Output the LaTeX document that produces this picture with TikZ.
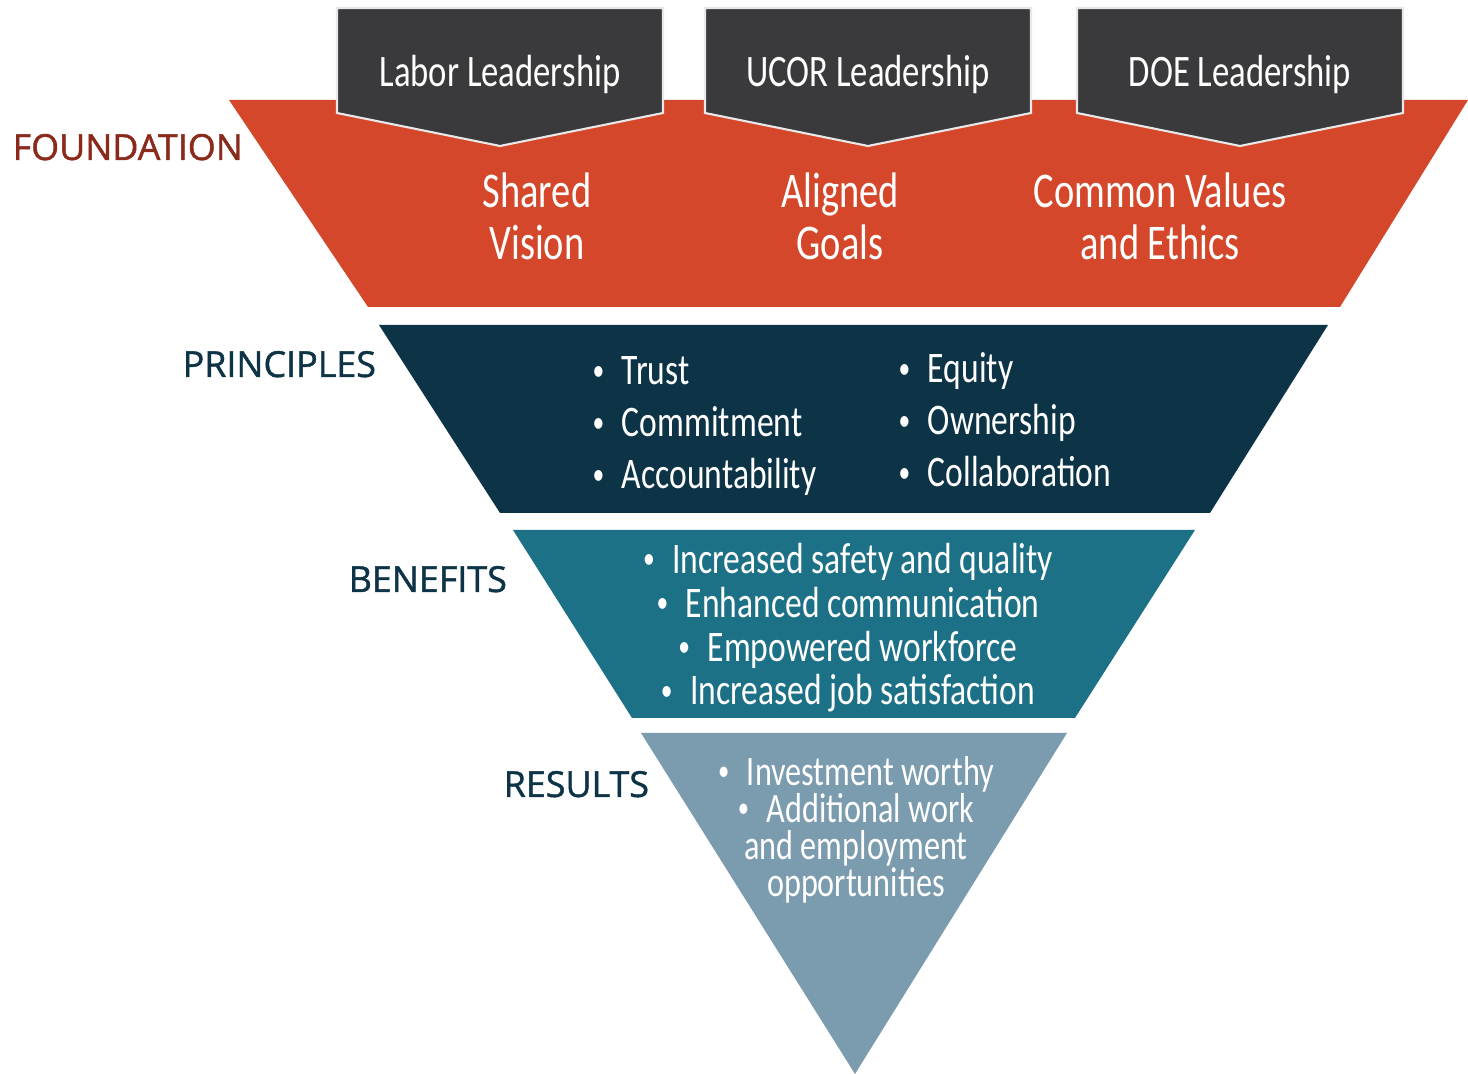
\documentclass[tikz,border=0pt]{standalone}
\usepackage{fontspec}
\setmainfont{Carlito}
\newfontfamily\condfont[FakeStretch=0.77]{Carlito}
\newfontfamily\labelfont[FakeBold=1.2]{Open Sans}
\usepackage{tikz}
\usetikzlibrary{positioning}

\definecolor{foundorange}{HTML}{D5472A}
\definecolor{headgray}{HTML}{3A3A3C}
\definecolor{princblue}{HTML}{0C3346}
\definecolor{benefteal}{HTML}{1D7186}
\definecolor{resultgray}{HTML}{7B9BAF}
\definecolor{foundlabel}{HTML}{8A2A1C}

\newcommand{\bul}{\raisebox{1.3pt}{\scalebox{0.7}{•}}\hspace{5pt}}

\tikzset{
  headbox/.style={fill=headgray, draw=white!82!gray, line width=0.6pt},
  headtext/.style={text=white, inner sep=0pt, anchor=base,
    font=\condfont\fontsize{12.8}{14}\selectfont},
  foundtext/.style={text=white, inner sep=0pt, anchor=base, align=center,
    font=\condfont\fontsize{14.2}{14.8}\selectfont},
  princtext/.style={text=white, inner sep=0pt, anchor=base west, align=left,
    font=\condfont\fontsize{12.4}{14.8}\selectfont},
  beneftext/.style={text=white, inner sep=0pt, anchor=base, align=center,
    font=\condfont\fontsize{12.4}{12.5}\selectfont},
  resulttext/.style={text=white, inner sep=0pt, anchor=base, align=center,
    font=\condfont\fontsize{11.9}{10.6}\selectfont},
  sidelabel/.style={inner sep=0pt, anchor=base west,
    font=\labelfont\fontsize{10.2}{11}\selectfont}
}

\begin{document}
\begin{tikzpicture}[x=0.01cm,y=-0.01cm]
  \useasboundingbox (0,0) rectangle (1468,1074);

  % the four bands of the funnel
  \fill[foundorange] (229,100) -- (1468,100) -- (1340,307) -- (368,307) -- cycle;
  \fill[princblue] (379,325) -- (1328,325) -- (1210,513) -- (500,513) -- cycle;
  \fill[benefteal] (513,530) -- (1195,530) -- (1075,718) -- (632,718) -- cycle;
  \fill[resultgray] (641,733) -- (1067,733) -- (855,1074) -- cycle;

  % leadership tabs
  \foreach \xl/\txt/\nm in {337/Labor Leadership/labor,
                            705/UCOR Leadership/ucor,
                            1077/DOE Leadership/doe} {
    \draw[headbox] (\xl,8) -- ++(326,0) -- ++(0,105) -- ++(-163,33)
      -- ++(-163,-33) -- cycle;
    \node[headtext] (\nm) at (\xl+163,87) {\txt};
  }

  % multi-line nodes sit on the baseline of their last line
  \node[foundtext] (vision) at (537,260) {Shared\\Vision};
  \node[foundtext] (goals) at (840,260) {Aligned\\Goals};
  \node[foundtext] (values) at (1160,260) {Common Values\\and Ethics};

  \node[princtext] (princleft) at (592,489)
    {\bul Trust\\\bul Commitment\\\bul Accountability};
  \node[princtext] (princright) at (898,487)
    {\bul Equity\\\bul Ownership\\\bul Collaboration};

  \node[beneftext] (benefits) at (848,705)
    {\bul Increased safety and quality\\\bul Enhanced communication\\
     \bul Empowered workforce\\\bul Increased job satisfaction};

  \node[resulttext] (results) at (856,897)
    {\bul Investment worthy\\\bul Additional work\\
     and employment\\opportunities};

  \node[sidelabel, text=foundlabel] (foundlbl) at (12,160) {FOUNDATION};
  \node[sidelabel, text=princblue] (princlbl) at (182,377) {PRINCIPLES};
  \node[sidelabel, text=princblue] (beneflbl) at (348,592) {BENEFITS};
  \node[sidelabel, text=princblue] (resultlbl) at (503,797) {RESULTS};
\end{tikzpicture}
\end{document}
